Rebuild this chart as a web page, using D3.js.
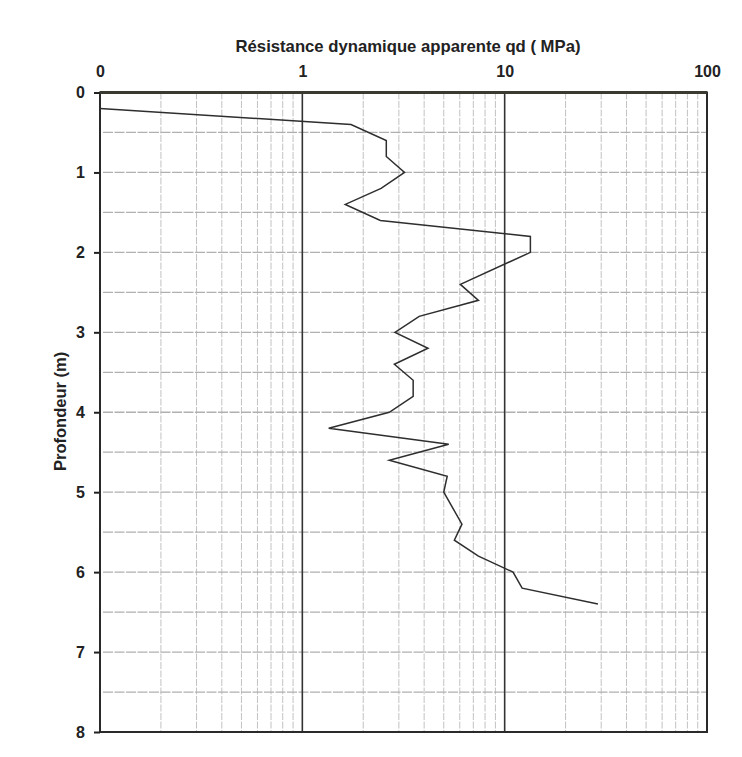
<!DOCTYPE html>
<html><head><meta charset="utf-8">
<script src="https://cdn.jsdelivr.net/npm/d3@7"></script>
<style>
html,body{margin:0;padding:0;background:#fff;}
svg{display:block;font-family:"Liberation Sans",Arial,sans-serif;}
</style></head>
<body><svg id="c" width="742" height="757"></svg>
<script>
const depths = [0.2,0.4,0.6,0.8,1.0,1.2,1.4,1.6,1.8,2.0,2.4,2.6,2.8,3.0,3.2,3.4,3.6,3.8,4.0,4.2,4.4,4.6,4.8,5.0,5.4,5.6,5.8,6.0,6.2,6.4];
const qd = [0.1,1.74,2.6,2.6,3.2,2.45,1.63,2.43,13.4,13.4,6.04,7.42,3.78,2.87,4.18,2.85,3.53,3.53,2.69,1.35,5.29,2.69,5.2,5.0,6.15,5.64,7.42,11.0,12.2,28.9];
const xTickValues = [0.1,1,10,100];
const xTickLabels = ["0","1","10","100"];
const yTickValues = [0,1,2,3,4,5,6,7,8];
const title = "Résistance dynamique apparente qd ( MPa)";
const yTitle = "Profondeur (m)";

const W = 742, H = 757;
const m = {left:100, right:35, top:92.5, bottom:25};
const svg = d3.select("#c");
const x = d3.scaleLog().domain([0.1,100]).range([m.left, W - m.right]);
const y = d3.scaleLinear().domain([0,8]).range([m.top, H - m.bottom]);

const g = svg.append("g");
// minor vertical grid
const minors = [];
[0.1,1,10].forEach(d => { for (let k=2;k<=9;k++) minors.push(d*k); });
g.selectAll("line.vmin").data(minors).enter().append("line")
  .attr("x1", d=>x(d)).attr("x2", d=>x(d))
  .attr("y1", y(0)).attr("y2", y(8))
  .attr("stroke","#c2c2c2").attr("stroke-width",1)
  .attr("stroke-dasharray","7,1.5");
// horizontal grid every 0.5 m
const hs = d3.range(0.5, 8, 0.5);
g.selectAll("line.h").data(hs).enter().append("line")
  .attr("x1", x(0.1)+3).attr("x2", x(100))
  .attr("y1", d=>y(d)).attr("y2", d=>y(d))
  .attr("stroke","#b0b0b0").attr("stroke-width",1.3)
  .attr("stroke-dasharray","10,1.5");
// major vertical
g.selectAll("line.vmaj").data([1,10]).enter().append("line")
  .attr("x1", d=>x(d)).attr("x2", d=>x(d))
  .attr("y1", y(0)).attr("y2", y(8))
  .attr("stroke","#333").attr("stroke-width",1.6);
// frame
g.append("rect").attr("x", x(0.1)).attr("y", y(0))
  .attr("width", x(100)-x(0.1)).attr("height", y(8)-y(0))
  .attr("fill","none").attr("stroke","#2a2a2a").attr("stroke-width",2);
g.append("line").attr("x1",x(0.1)).attr("x2",x(100)).attr("y1",y(0)).attr("y2",y(0))
  .attr("stroke","#3a3a30").attr("stroke-width",3);

// axes
const xAxis = d3.axisTop(x).tickValues(xTickValues)
  .tickFormat((d,i)=>xTickLabels[i]).tickSize(0).tickPadding(16);
const xa = svg.append("g").attr("transform",`translate(0,${y(0)})`).call(xAxis);
xa.select(".domain").remove();
xa.selectAll("text").attr("font-size",16).attr("font-weight","bold").attr("fill","#222")
  .attr("font-family","Liberation Sans, Arial, sans-serif");

const yAxis = d3.axisLeft(y).tickValues(yTickValues).tickFormat(d3.format("d"))
  .tickSize(6).tickPadding(9);
const ya = svg.append("g").attr("transform",`translate(${x(0.1)},0)`).call(yAxis);
ya.select(".domain").remove();
ya.selectAll("line").attr("stroke","#222").attr("stroke-width",2);
ya.selectAll("text").attr("font-size",16).attr("font-weight","bold").attr("fill","#222")
  .attr("font-family","Liberation Sans, Arial, sans-serif");

// data line
const pts = depths.map((d,i)=>[qd[i], d]);
svg.append("path").datum(pts)
  .attr("d", d3.line().x(p=>x(p[0])).y(p=>y(p[1])))
  .attr("fill","none").attr("stroke","#2e2e2e").attr("stroke-width",1.5)
  .attr("stroke-linejoin","miter");

// titles
svg.append("text").attr("x", 408).attr("y", 52).attr("text-anchor","middle")
  .attr("font-size",16.7).attr("font-weight","bold").attr("fill","#222").text(title);
svg.append("text").attr("transform",`translate(66,${y(3.99)}) rotate(-90)`)
  .attr("text-anchor","middle").attr("font-size",16.5).attr("font-weight","bold")
  .attr("fill","#222").text(yTitle);
</script></body></html>
